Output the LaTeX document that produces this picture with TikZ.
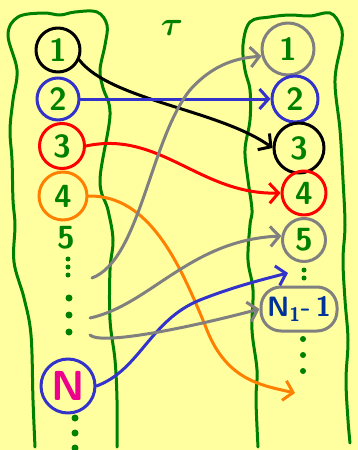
\documentclass[tikz,border=0pt]{standalone}
\usepackage{tikz}
\usetikzlibrary{arrows.meta}
\usepackage{amsmath}
\usepackage{amssymb}
\usepackage{xcolor}
\definecolor{bgyellow}{RGB}{255,255,160}
\definecolor{sketchgreen}{RGB}{0,128,0}
\definecolor{sketchblue}{RGB}{51,51,204}
\definecolor{sketchorange}{RGB}{255,128,0}
\definecolor{sketchgray}{RGB}{128,128,128}
\definecolor{navyblue}{RGB}{0,51,153}

\begin{document}
\begin{tikzpicture}[x=1pt, y=-1pt, line width=3pt, line cap=round, line join=round,
  >={Straight Barb[length=9pt, width=20pt]},
  elem/.style={circle, draw, line width=3pt, inner sep=0pt, text=sketchgreen,
    font=\sffamily\bfseries\fontsize{32}{32}\selectfont},
  band/.style={sketchgreen, line width=3pt}]
% background and frame
\fill[bgyellow] (0,0) rectangle (358,450);
\useasboundingbox (0,0) rectangle (358,450);
% (a) the two bands
\draw[band] plot[smooth, tension=0.6] coordinates {(35,447) (33,400) (31,335) (24,298) (14,262)
  (15,225) (13,200) (12,160) (10,130) (13,100) (17,70) (8,35) (18,17) (43,13) (60,15) (75,12)
  (97,12) (107,25) (105,45) (100,70) (103,88) (110,115) (100,180) (108,210) (113,240) (110,270)
  (110,320) (115,360) (117,400) (117,447)};
\draw[band] plot[smooth, tension=0.6] coordinates {(258,447) (256,400) (257,370) (252,330) (253,290)
  (248,260) (250,225) (252,210) (248,180) (245,150) (250,120) (250,90) (245,70) (243,45)
  (250,22) (270,17) (290,15) (310,16) (330,13) (340,25) (342,40) (335,80) (340,130) (343,180)
  (345,225) (343,260) (345,300) (348,340) (346,380) (348,420) (350,443)};
\node[text=sketchgreen] (tau) at (172,28) {\scalebox{3.4}{$\boldsymbol{\tau}$}};
% left side
\node[elem, draw=black, minimum size=44pt] (l1) at (58,50) {1};
\node[elem, draw=sketchblue, minimum size=42pt] (l2) at (58,99) {2};
\node[elem, draw=red, minimum size=45pt] (l3) at (62,146) {3};
\node[elem, draw=sketchorange, minimum size=48pt] (l4) at (63,196) {4};
\node[text=sketchgreen, font=\sffamily\bfseries\fontsize{32}{32}\selectfont] (l5) at (66,238) {5};
\node[elem, draw=sketchblue, text=magenta, minimum size=54pt, font=\sffamily\bfseries\fontsize{42}{42}\selectfont] (lN) at (68,386) {N};
\fill[sketchgreen] (68,259) circle (2.5pt) (68,267) circle (2.5pt) (68,275) circle (2.5pt);
\fill[sketchgreen] (69,298) circle (3.5pt) (69,315) circle (3.5pt) (69,332) circle (3.5pt);
\fill[sketchgreen] (75,418) circle (3.5pt) (75,433) circle (3.5pt) (75,448) circle (3.5pt);
% right side
\node[elem, draw=sketchgray, minimum size=52pt] (r1) at (288,49) {1};
\node[elem, draw=sketchblue, minimum size=46pt] (r2) at (295,99) {2};
\node[elem, draw=black, minimum size=50pt] (r3) at (299,148) {3};
\node[elem, draw=red, minimum size=44pt] (r4) at (304,193) {4};
\node[elem, draw=sketchgray, minimum size=43pt] (r5) at (304,240) {5};
\node[draw=sketchgray, line width=3pt, rounded corners=20pt, minimum width=76pt, minimum height=44pt,
  text=navyblue, font=\sffamily\bfseries\fontsize{28}{28}\selectfont] (rN) at (299,309) {N\textsubscript{1}-\,1};
\fill[sketchgreen] (304,270) circle (2.5pt) (304,278) circle (2.5pt);
\fill[sketchgreen] (303,339) circle (3pt) (303,355) circle (3pt) (303,371) circle (3pt);
% free ends
\coordinate (g1) at (92,278);
\coordinate (g2) at (90,318);
\coordinate (g3) at (90,335);
\coordinate (oend) at (295,393);
\coordinate (bend) at (288,273);
% arrows
\draw[->, black] (l1.-25) .. controls (110,100) and (220,110) .. (r3.west);
\draw[->, sketchblue] (l2.east) -- (r2.west);
\draw[->, red] (l3.east) .. controls (160,130) and (200,195) .. (r4.west);
\draw[->, sketchorange] (l4.east) .. controls (150,195) and (180,265) .. (205,325)
  .. controls (225,380) and (260,385) .. (oend);
\draw[->, sketchgray] (g1) .. controls (140,260) and (150,140) .. (190,90)
  .. controls (215,62) and (240,58) .. (r1.195);
\draw[->, sketchgray] (g2) .. controls (150,305) and (190,240) .. (r5.170);
\draw[->, sketchblue] (lN.east) .. controls (140,370) and (150,320) .. (200,300)
  .. controls (230,288) and (260,280) .. (bend);
\draw[->, sketchgray] (g3) .. controls (100,345) and (180,330) .. (rN.west);
\end{tikzpicture}
\end{document}
